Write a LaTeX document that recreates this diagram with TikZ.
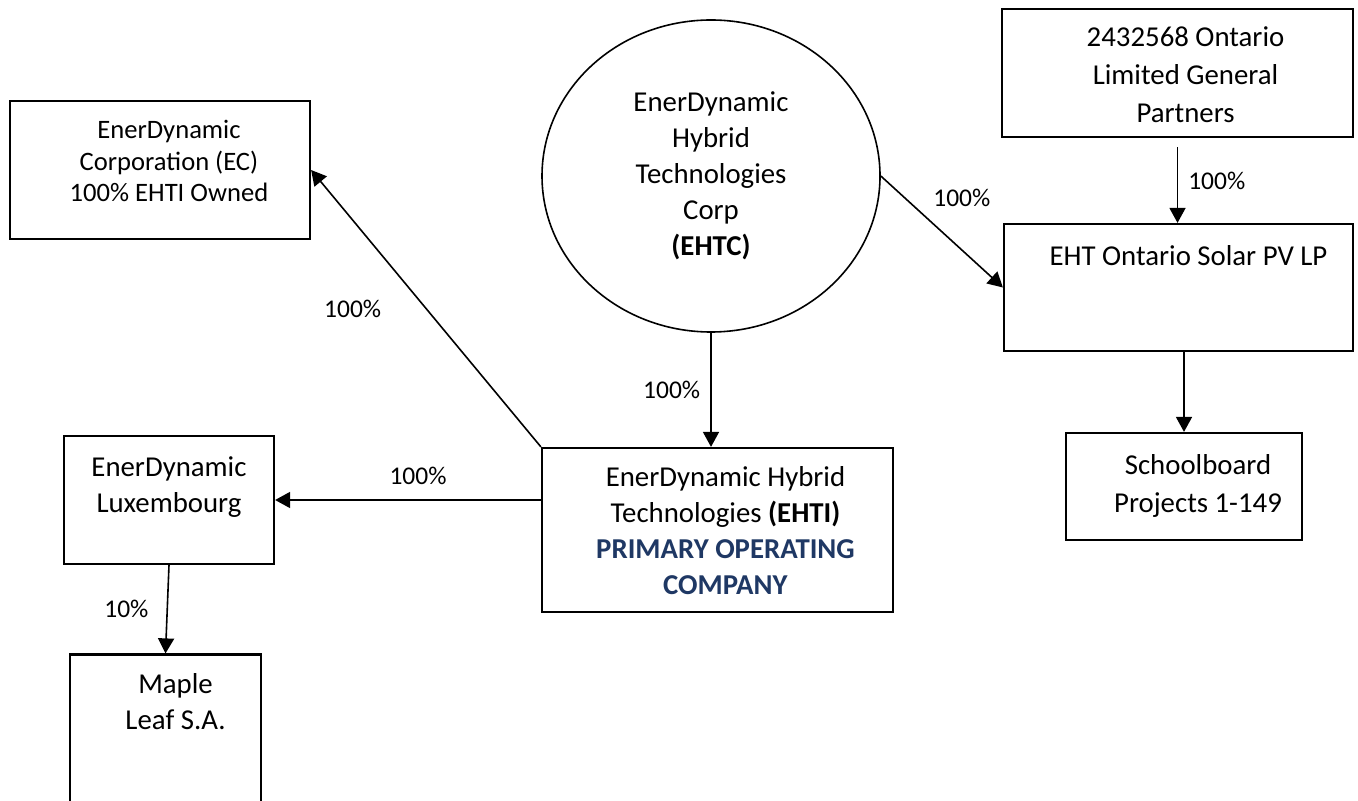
\documentclass[tikz,border=0pt]{standalone}
\usepackage{fontspec}
\setmainfont{Carlito}
\usepackage{tikz}
\usetikzlibrary{positioning,arrows.meta,shapes.geometric}
\definecolor{opblue}{HTML}{1F3864}
\tikzset{
  entity/.style={rectangle, draw, line width=1.1pt, inner sep=0pt},
  holding/.style={ellipse, draw, line width=0.8pt, align=center, inner sep=0pt,
                  font=\fontsize{14.4}{18}\selectfont},
  boxtext/.style={align=center, inner sep=0pt, font=\fontsize{14.4}{18}\selectfont},
  widelines/.style={font=\fontsize{14.4}{19}\selectfont},
  own/.style={-{Triangle[length=7.5pt, width=8pt]}, line width=0.8pt},
  pct/.style={inner sep=0pt, font=\fontsize{12.75}{15}\selectfont},
}

\begin{document}
\begin{tikzpicture}[x=0.5pt, y=-0.5pt]
\useasboundingbox (0,0) rectangle (1358,801);
\clip (0,0) rectangle (1358,801);

%Nodes
\node[entity, minimum width=150pt, minimum height=69pt] (ec) at (160,170) {};
\node[boxtext, font=\fontsize{13.3}{15.75}\selectfont] (ec-txt) [below=10pt of ec.north, xshift=4.5pt] {EnerDynamic\\Corporation (EC)\\100\% EHTI Owned};

\node[holding, minimum width=169pt, minimum height=156pt] (ehtc) at (711,176) {EnerDynamic\\Hybrid\\Technologies\\Corp\\\textbf{(EHTC)}};

\node[entity, minimum width=175.5pt, minimum height=64pt] (lp) at (1177.5,73) {};
\node[boxtext, widelines] (lp-txt) [below=9pt of lp.north, xshift=4pt] {2432568 Ontario\\Limited General\\Partners};

\node[entity, minimum width=174.5pt, minimum height=63.5pt] (solar) at (1178.5,287.5) {};
\node[boxtext] (solar-txt) [below=11pt of solar.north, xshift=5pt] {EHT Ontario Solar PV LP};

\node[entity, minimum width=118pt, minimum height=53.5pt] (school) at (1184,486.5) {};
\node[boxtext, widelines] (school-txt) [below=11pt of school.north, xshift=7pt] {Schoolboard\\Projects 1-149};

\node[entity, minimum width=175.5pt, minimum height=82pt] (ehti) at (717.5,530) {};
\node[boxtext] (ehti-txt) [below=9.5pt of ehti.north, xshift=4pt] {EnerDynamic Hybrid\\Technologies \textbf{(EHTI)}\\\textcolor{opblue}{\textbf{PRIMARY OPERATING}}\\\textcolor{opblue}{\textbf{COMPANY}}};

\node[entity, minimum width=105pt, minimum height=64pt] (lux) at (169,500) {};
\node[boxtext] (lux-txt) [below=10.5pt of lux.north] {EnerDynamic\\Luxembourg};

\node[entity, minimum width=95.5pt, minimum height=87.5pt] (maple) at (165.5,742) {};
\node[boxtext] (maple-txt) [below=10pt of maple.north, xshift=5pt] {Maple\\Leaf S.A.};

%Lines
\draw[own] (ehti.north west) -- (ec.east) node[pct, midway, left=22pt] {100\%};
\draw[own] (ehtc.south) -- (ehtc.south |- ehti.north) node[pct, midway, left=5pt] {100\%};
\draw[own] (lux.east -| ehti.west) -- (lux.east) node[pct, midway, above=7pt, xshift=5pt] {100\%};
\draw[own] (lux.south) -- (maple.north) node[pct, midway, left=9pt] {10\%};
\draw[own] (ehtc.east) -- (solar.west) node[pct, midway, above=12pt, xshift=10pt] {100\%};
\draw[own, shorten <=4.5pt] (lp.south) -- (lp.south |- solar.north) node[pct, midway, right=5pt] {100\%};
\draw[own] (school.north |- solar.south) -- (school.north);
\end{tikzpicture}
\end{document}
